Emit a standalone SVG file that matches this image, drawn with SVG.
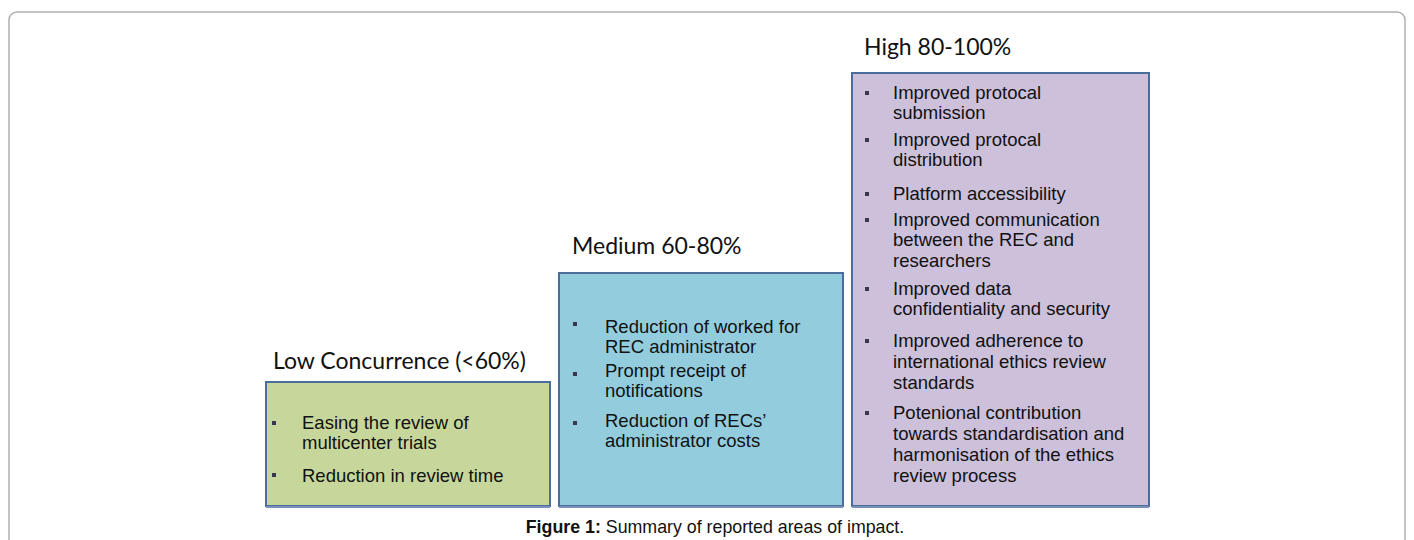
<svg xmlns="http://www.w3.org/2000/svg" width="1414" height="540" viewBox="0 0 1414 540">
<style>
.frame{fill:none;stroke:#b0b0b0;stroke-width:1.5}
.box{stroke:#4a6d9c;stroke-width:2}
.hd{font-family:Lato,"Open Sans",sans-serif;font-size:23px;fill:#111}
.tx{font-family:"Liberation Sans",Arial,sans-serif;font-size:18.5px;fill:#111}
.bl{fill:#3a3550}
.cap{font-family:"Liberation Sans",Arial,sans-serif;font-size:17.8px;fill:#111}
</style>
<rect class="frame" x="9" y="12" width="1396" height="560" rx="8"/>
<g id="low">
<text class="hd" x="273" y="369">Low Concurrence (&lt;60%)</text>
<rect x="266" y="382" width="284" height="124" fill="#c7d79b" class="box"/>
<line x1="266" y1="507" x2="550" y2="507" stroke="#7a90b8" stroke-width="2"/>
<rect class="bl" x="272" y="421" width="4" height="4"/>
<rect class="bl" x="272" y="473" width="4" height="4"/>
<text class="tx" x="302" y="429">Easing the review of</text>
<text class="tx" x="302" y="449">multicenter trials</text>
<text class="tx" x="302" y="482">Reduction in review time</text>
</g>
<g id="medium">
<text class="hd" x="572" y="254">Medium 60-80%</text>
<rect x="559" y="273" width="284" height="233" fill="#93cddd" class="box"/>
<line x1="559" y1="507" x2="843" y2="507" stroke="#7a90b8" stroke-width="2"/>
<rect class="bl" x="573" y="322" width="4" height="4"/>
<rect class="bl" x="573" y="372" width="4" height="4"/>
<rect class="bl" x="573" y="421" width="4" height="4"/>
<text class="tx" x="605" y="333">Reduction of worked for</text>
<text class="tx" x="605" y="353">REC administrator</text>
<text class="tx" x="605" y="377">Prompt receipt of</text>
<text class="tx" x="605" y="397">notifications</text>
<text class="tx" x="605" y="427">Reduction of RECs’</text>
<text class="tx" x="605" y="447">administrator costs</text>
</g>
<g id="high">
<text class="hd" x="864" y="55">High 80-100%</text>
<rect x="852" y="73" width="297" height="433" fill="#ccc0da" class="box"/>
<line x1="852" y1="507" x2="1149" y2="507" stroke="#7a90b8" stroke-width="2"/>
<rect class="bl" x="865" y="91" width="4" height="4"/>
<rect class="bl" x="865" y="138" width="4" height="4"/>
<rect class="bl" x="865" y="192" width="4" height="4"/>
<rect class="bl" x="865" y="218" width="4" height="4"/>
<rect class="bl" x="865" y="287" width="4" height="4"/>
<rect class="bl" x="865" y="339" width="4" height="4"/>
<rect class="bl" x="865" y="411" width="4" height="4"/>
<text class="tx" x="893" y="99">Improved protocal</text>
<text class="tx" x="893" y="119">submission</text>
<text class="tx" x="893" y="146">Improved protocal</text>
<text class="tx" x="893" y="166">distribution</text>
<text class="tx" x="893" y="200">Platform accessibility</text>
<text class="tx" x="893" y="226">Improved communication</text>
<text class="tx" x="893" y="246">between the REC and</text>
<text class="tx" x="893" y="267">researchers</text>
<text class="tx" x="893" y="295">Improved data</text>
<text class="tx" x="893" y="315">confidentiality and security</text>
<text class="tx" x="893" y="347">Improved adherence to</text>
<text class="tx" x="893" y="368">international ethics review</text>
<text class="tx" x="893" y="389">standards</text>
<text class="tx" x="893" y="419">Potenional contribution</text>
<text class="tx" x="893" y="440">towards standardisation and</text>
<text class="tx" x="893" y="461">harmonisation of the ethics</text>
<text class="tx" x="893" y="482">review process</text>
</g>
<g id="connectors"></g>
<text class="cap" x="715" y="533" text-anchor="middle"><tspan font-weight="bold">Figure 1:</tspan> Summary of reported areas of impact.</text>
</svg>
